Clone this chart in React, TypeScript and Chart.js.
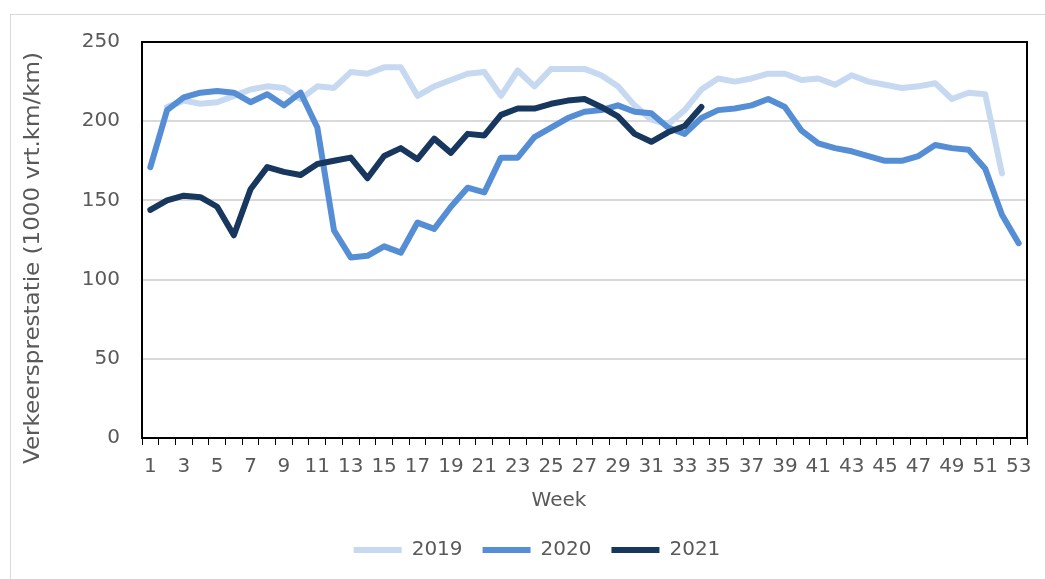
import React, { useEffect, useRef } from "react";
import { Chart, registerables } from "chart.js";

Chart.register(...registerables);

const weeks = [
  "1", "2", "3", "4", "5", "6", "7", "8", "9", "10",
  "11", "12", "13", "14", "15", "16", "17", "18", "19", "20",
  "21", "22", "23", "24", "25", "26", "27", "28", "29", "30",
  "31", "32", "33", "34", "35", "36", "37", "38", "39", "40",
  "41", "42", "43", "44", "45", "46", "47", "48", "49", "50",
  "51", "52", "53",
];

const series2019 = [
  null, 209, 213, 211, 212, 216, 220, 222, 221, 214,
  222, 221, 231, 230, 234, 234, 216, 222, 226, 230,
  231, 216, 232, 222, 233, 233, 233, 229, 222, 210,
  201, 198, 207, 220, 227, 225, 227, 230, 230, 226,
  227, 223, 229, 225, 223, 221, 222, 224, 214, 218,
  217, 167, null,
];

const series2020 = [
  171, 207, 215, 218, 219, 218, 212, 217, 210, 218,
  196, 131, 114, 115, 121, 117, 136, 132, 146, 158,
  155, 177, 177, 190, 196, 202, 206, 207, 210, 206,
  205, 196, 192, 202, 207, 208, 210, 214, 209, 194,
  186, 183, 181, 178, 175, 175, 178, 185, 183, 182,
  170, 141, 123,
];

const series2021 = [
  144, 150, 153, 152, 146, 128, 157, 171, 168, 166,
  173, 175, 177, 164, 178, 183, 176, 189, 180, 192,
  191, 204, 208, 208, 211, 213, 214, 209, 203, 192,
  187, 193, 197, 209, null, null, null, null, null, null,
  null, null, null, null, null, null, null, null, null, null,
  null, null, null,
];

const seriesNames = ["2019", "2020", "2021"];
const seriesColors = ["#C6D9F1", "#558ED5", "#17375E"];
const yTicks = [0, 50, 100, 150, 200, 250];

const xTitle = "Week";
const yTitle = "Verkeersprestatie (1000 vrt.km/km)";

const FONT = "'DejaVu Sans', Verdana, sans-serif";
const TEXT = "#595959";

const framePlugin = {
  id: "frameAndTitles",
  afterDraw(chart: any) {
    const { ctx, chartArea } = chart;
    const { left, top, right, bottom } = chartArea;
    ctx.save();
    ctx.strokeStyle = "#000000";
    ctx.lineWidth = 2;
    ctx.strokeRect(left, top, right - left, bottom - top);

    ctx.fillStyle = TEXT;
    ctx.font = `20px ${FONT}`;
    ctx.textAlign = "center";
    ctx.textBaseline = "middle";
    ctx.fillText(xTitle, left + 417, bottom + 63);

    ctx.font = `21px ${FONT}`;
    const w = ctx.measureText(yTitle).width;
    ctx.translate(left - 108, top + 216);
    ctx.rotate(-Math.PI / 2);
    ctx.scale(412 / w, 1);
    ctx.fillText(yTitle, 0, 0);
    ctx.restore();
  },
};

export default function App() {
  const canvasRef = useRef<HTMLCanvasElement | null>(null);

  useEffect(() => {
    const canvas = canvasRef.current;
    if (!canvas) return;
    const data = [series2019, series2020, series2021];
    const chart = new Chart(canvas, {
      type: "line",
      data: {
        labels: weeks,
        datasets: data.map((d, i) => ({
          label: seriesNames[i],
          data: d,
          borderColor: seriesColors[i],
          backgroundColor: seriesColors[i],
          borderWidth: 6,
          borderCapStyle: "round",
          borderJoinStyle: "round",
          pointRadius: 0,
          pointHoverRadius: 0,
          tension: 0,
          fill: false,
          spanGaps: false,
          order: 3 - i,
        })),
      },
      options: {
        responsive: false,
        animation: false,
        devicePixelRatio: 1,
        events: [],
        layout: { padding: { left: 47, right: 18, top: 42, bottom: 9 } },
        plugins: {
          tooltip: { enabled: false },
          title: { display: false },
          legend: {
            display: true,
            position: "bottom",
            align: "center",
            labels: {
              usePointStyle: true,
              pointStyle: "line",
              pointStyleWidth: 48,
              padding: 20,
              color: TEXT,
              font: { family: FONT, size: 20 },
              sort: (a: any, b: any) => a.datasetIndex - b.datasetIndex,
            },
          },
        },
        scales: {
          x: {
            type: "category",
            offset: true,
            grid: {
              offset: true,
              drawOnChartArea: false,
              drawTicks: true,
              tickLength: 7,
              tickColor: "#000000",
              tickWidth: 1,
            },
            border: { display: true, color: "#000000", width: 2 },
            ticks: {
              autoSkip: false,
              maxRotation: 0,
              minRotation: 0,
              padding: 10,
              color: TEXT,
              font: { family: FONT, size: 20 },
              callback: (_v: any, i: number) => (i % 2 === 0 ? weeks[i] : ""),
            },
            afterFit(scale: any) {
              scale.height = 82;
            },
          },
          y: {
            min: yTicks[0],
            max: yTicks[yTicks.length - 1],
            afterBuildTicks(scale: any) {
              scale.ticks = yTicks.map((v) => ({ value: v }));
            },
            grid: { color: "#D9D9D9", lineWidth: 2, drawTicks: false },
            border: { display: true, color: "#000000", width: 2 },
            ticks: {
              padding: 22,
              color: TEXT,
              font: { family: FONT, size: 20 },
            },
            afterFit(scale: any) {
              scale.width = 95;
            },
          },
        },
      },
      plugins: [framePlugin],
    } as any);
    return () => chart.destroy();
  }, []);

  return (
    <div
      style={{
        position: "fixed",
        left: 0,
        top: 0,
        width: 1045,
        height: 579,
        background: "#ffffff",
        overflow: "hidden",
      }}
    >
      <div
        style={{
          position: "absolute",
          left: 10,
          top: 14,
          width: 1060,
          height: 600,
          borderLeft: "1px solid #D9D9D9",
          borderTop: "1px solid #D9D9D9",
        }}
      />
      <canvas
        ref={canvasRef}
        width={1045}
        height={579}
        style={{ position: "absolute", left: 0, top: 0, width: 1045, height: 579 }}
      />
    </div>
  );
}
